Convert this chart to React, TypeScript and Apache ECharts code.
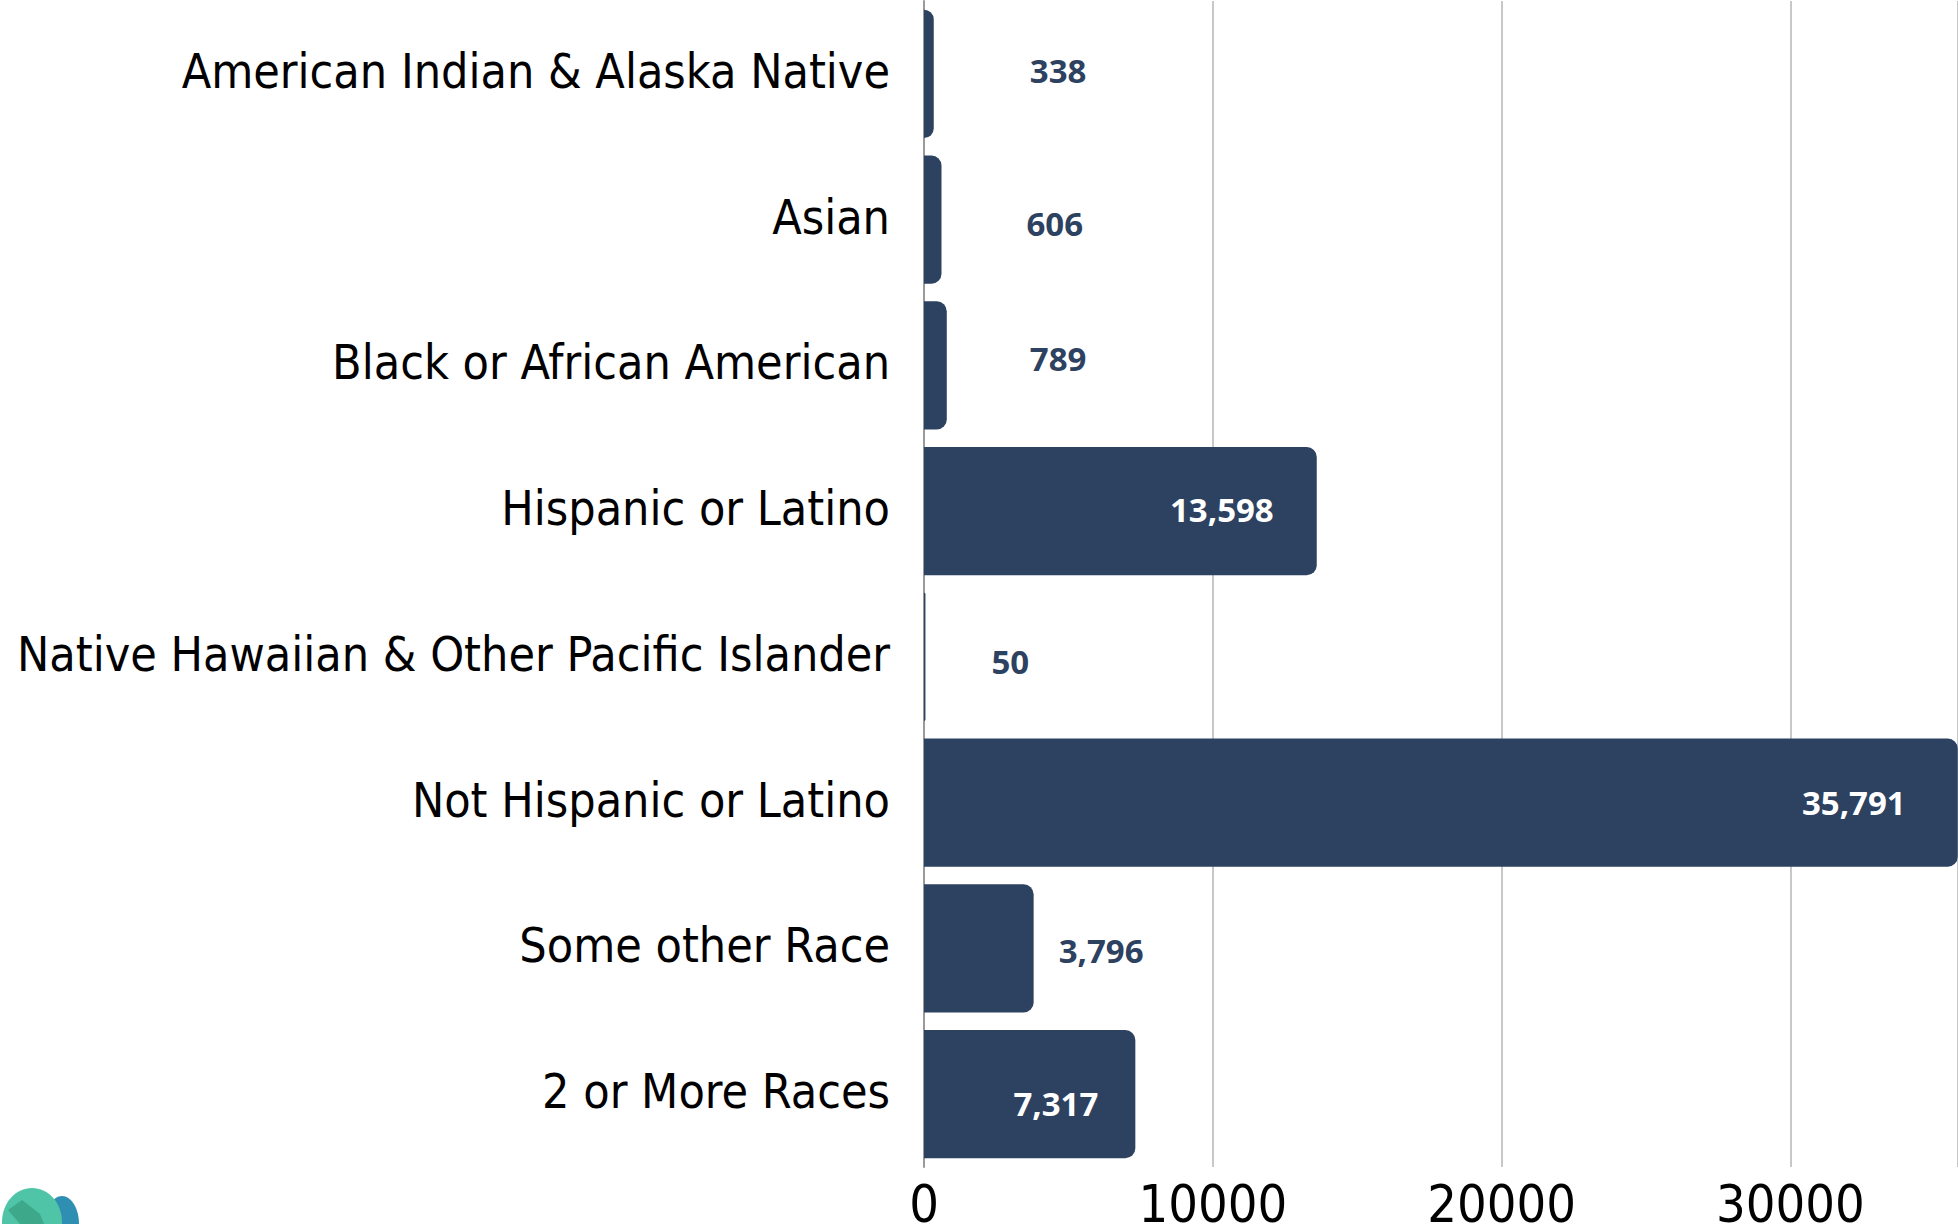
import React, { useEffect, useRef } from "react";
import * as echarts from "echarts";

const categories: string[] = [
  "American Indian & Alaska Native",
  "Asian",
  "Black or African American",
  "Hispanic or Latino",
  "Native Hawaiian & Other Pacific Islander",
  "Not Hispanic or Latino",
  "Some other Race",
  "2 or More Races",
];

const values: number[] = [338, 606, 789, 13598, 50, 35791, 3796, 7317];

// label placement per bar: inside (white) or outside (dark), with a nudge
const labelInside: boolean[] = [false, false, false, true, false, true, false, true];
const labelNudge: number[][] = [
  [96, -3],
  [85, 4],
  [83, -7],
  [-43, -2],
  [66, 5],
  [-52, 0],
  [25, 2],
  [-37, 9],
];

const BAR = "#2d4160";
const LABEL_FONT = "'Liberation Sans Narrow', 'DejaVu Sans Condensed', 'Roboto Condensed', Roboto, sans-serif";

export default function App() {
  const ref = useRef<HTMLDivElement>(null);

  useEffect(() => {
    if (!ref.current) return;
    const chart = echarts.init(ref.current, undefined, { renderer: "svg" });

    const data = values.map((v, i) => ({
      value: v,
      label: {
        show: true,
        position: labelInside[i] ? "insideRight" : "right",
        distance: 0,
        offset: labelNudge[i],
        color: labelInside[i] ? "#ffffff" : BAR,
      },
    }));

    chart.setOption({
      animation: false,
      backgroundColor: "#ffffff",
      grid: {
        left: 924,
        right: 0,
        top: 1,
        bottom: 57,
        containLabel: false,
        outerBoundsMode: "none",
      },
      xAxis: {
        type: "value",
        min: 0,
        max: 35800,
        interval: 10000,
        axisLine: { show: false },
        axisTick: { show: false },
        axisLabel: {
          showMaxLabel: false,
          color: "#000000",
          fontFamily: LABEL_FONT,
          fontSize: 52,
          margin: 11,
          formatter: (v: number) => String(v),
        },
        splitLine: { show: true, lineStyle: { color: "#c8c8c8", width: 2 } },
      },
      yAxis: {
        type: "category",
        data: categories,
        inverse: true,
        axisLine: { show: true, lineStyle: { color: "#9a9a9a", width: 2 } },
        axisTick: { show: false },
        axisLabel: {
          color: "#000000",
          fontFamily: LABEL_FONT,
          fontSize: 48,
          margin: 34,
          formatter: (v: string) => "{c|" + v + "}",
          rich: {
            c: {
              color: "#000000",
              fontFamily: LABEL_FONT,
              fontSize: 48,
              padding: [0, 0, 6, 0],
            },
          },
        },
        splitLine: { show: false },
      },
      series: [
        {
          type: "bar",
          data,
          barCategoryGap: "12%",
          itemStyle: { color: BAR, borderRadius: [0, 10, 10, 0] },
          label: {
            show: true,
            fontFamily: "'Open Sans', sans-serif",
            fontWeight: "bold",
            fontSize: 33,
            formatter: (p: any) => Number(p.value).toLocaleString("en-US"),
          },
        },
      ],
      graphic: [
        {
          type: "ellipse",
          shape: { cx: 62, cy: 1224, rx: 17, ry: 28 },
          style: { fill: "#2f8fb3" },
        },
        {
          type: "ellipse",
          shape: { cx: 32, cy: 1222, rx: 30, ry: 34 },
          style: { fill: "#4fc4a6" },
        },
        {
          type: "polygon",
          shape: { points: [[8, 1210], [22, 1200], [40, 1214], [44, 1224], [20, 1224]] },
          style: { fill: "#3ea88a" },
        },
      ],
    });

    return () => chart.dispose();
  }, []);

  return (
    <div
      ref={ref}
      style={{ position: "fixed", left: 0, top: 0, width: 1958, height: 1224, background: "#fff" }}
    />
  );
}
